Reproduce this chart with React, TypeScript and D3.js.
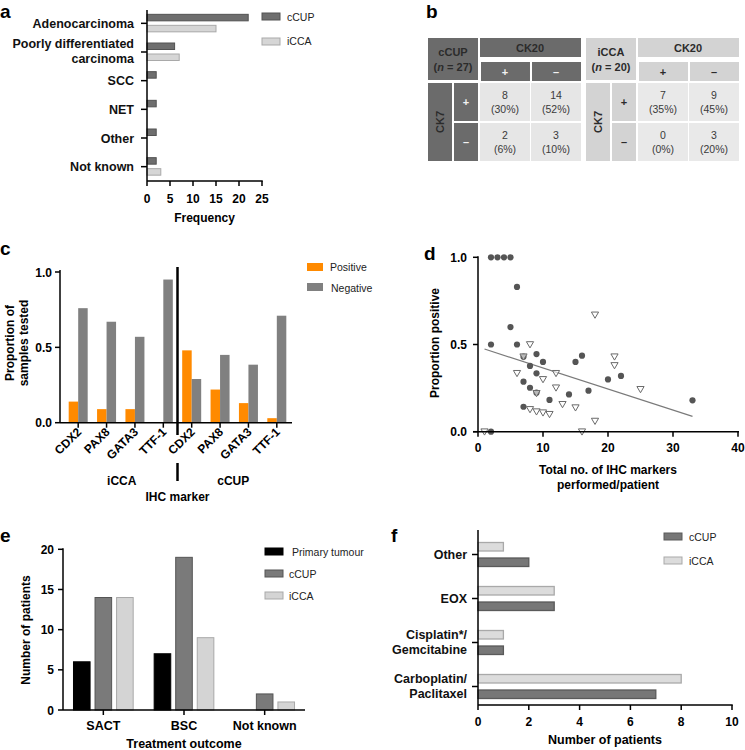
import React from 'react';
import * as d3 from 'd3';

const FONT = "'Liberation Sans', Arial, Helvetica, sans-serif";

// ---------- Panel a data ----------
const histCategories = ["Adenocarcinoma", "Poorly differentiated|carcinoma", "SCC", "NET", "Other", "Not known"];
const histCUP = [22, 6, 2, 2, 2, 2];
const histICCA = [15, 7, 0, 0, 0, 3];
const histTicks = [0, 5, 10, 15, 20, 25];

// ---------- Panel b data ----------
const ck20Cols = ["+", "–"];
const ck7Rows = ["+", "–"];
const cupCounts = [[8, 14], [2, 3]];
const cupPct = [["30%", "52%"], ["6%", "10%"]];
const iccaCounts = [[7, 9], [0, 3]];
const iccaPct = [["35%", "45%"], ["0%", "20%"]];

// ---------- Panel c data ----------
const markers = ["CDX2", "PAX8", "GATA3", "TTF-1"];
const markerGroups = ["iCCA", "cCUP"];
const iccaPositive = [0.14, 0.09, 0.09, 0];
const iccaNegative = [0.76, 0.67, 0.57, 0.95];
const cupPositive = [0.48, 0.22, 0.13, 0.03];
const cupNegative = [0.29, 0.45, 0.385, 0.71];
const propTicks = [0, 0.5, 1.0];

// ---------- Panel d data ----------
const circleX = [2, 3, 4, 5, 6, 5, 2, 6, 7, 9, 8, 10, 9, 7, 8, 9, 11, 14, 15, 16, 17, 20, 22, 33, 7, 2];
const circleY = [1, 1, 1, 1, 0.83, 0.6, 0.5, 0.5, 0.43, 0.445, 0.377, 0.4, 0.335, 0.287, 0.252, 0.224, 0.182, 0.214, 0.4, 0.436, 0.235, 0.3, 0.32, 0.18, 0.143, 0];
const triX = [1, 6, 8, 7, 10, 12, 12, 13, 15, 8, 9, 10, 11, 16, 18, 18, 21, 21, 25, 9];
const triY = [0, 0.335, 0.5, 0.43, 0.3, 0.335, 0.252, 0.157, 0.138, 0.128, 0.115, 0.109, 0.1, 0, 0.67, 0.061, 0.43, 0.38, 0.243, 0.22];
const fitX = [1, 33];
const fitY = [0.474, 0.088];
const markerXTicks = [0, 10, 20, 30, 40];

// ---------- Panel e data ----------
const outcomes = ["SACT", "BSC", "Not known"];
const outcomeSeries = ["Primary tumour", "cCUP", "iCCA"];
const outPrimary = [6, 7, 0];
const outCUP = [14, 19, 2];
const outICCA = [14, 9, 1];
const outTicks = [0, 5, 10, 15, 20];

// ---------- Panel f data ----------
const regimens = ["Other", "EOX", "Cisplatin*/|Gemcitabine", "Carboplatin/|Paclitaxel"];
const regICCA = [1, 3, 1, 8];
const regCUP = [2, 3, 1, 7];
const regTicks = [0, 2, 4, 6, 8, 10];

const DARK = "#6e6e6e";
const DARK_S = "#525252";
const LIGHT = "#d6d6d6";
const LIGHT_S = "#a9a9a9";
const PANEL_SIZE = 19;

function MultiLabel({ x, y, label, anchor = "end", size = 12.5, dy = 15 }: any) {
  const parts = label.split("|");
  const start = parts.length === 1 ? y + 4.5 : y - 4;
  return (
    <text x={x} y={start} textAnchor={anchor} fontSize={size} fontWeight="bold" fill="#111">
      {parts.map((p: string, i: number) => (
        <tspan key={i} x={x} dy={i === 0 ? 0 : dy}>{p}</tspan>
      ))}
    </text>
  );
}

function PanelA() {
  const x = d3.scaleLinear().domain([0, 25]).range([147, 262]);
  const y = d3.scaleBand().domain(histCategories).range([9, 181]);
  const c = (k: string) => (y(k) as number) + y.bandwidth() / 2;
  return (
    <g>
      <text x={0} y={18} fontSize={PANEL_SIZE} fontWeight="bold">a</text>
      {histCategories.map((k, i) => (
        <g key={k}>
          {histCUP[i] > 0 && <rect x={x(0)} y={c(k) - 9} width={x(histCUP[i]) - x(0)} height={6.5} fill={DARK} stroke={DARK_S} strokeWidth={1} />}
          {histICCA[i] > 0 && <rect x={x(0)} y={c(k) + 2} width={x(histICCA[i]) - x(0)} height={6.5} fill={LIGHT} stroke={LIGHT_S} strokeWidth={1} />}
          <line x1={x(0) - 6} x2={x(0)} y1={c(k)} y2={c(k)} stroke="#000" strokeWidth={1.5} />
          <MultiLabel x={134} y={c(k)} label={k} />
        </g>
      ))}
      <line x1={x(0)} x2={x(0)} y1={10} y2={181} stroke="#000" strokeWidth={1.5} />
      <line x1={x(0)} x2={x(25) + 0.75} y1={181} y2={181} stroke="#000" strokeWidth={1.5} />
      {histTicks.map(t => (
        <g key={t}>
          <line x1={x(t)} x2={x(t)} y1={181} y2={186} stroke="#000" strokeWidth={1.5} />
          <text x={x(t)} y={203} textAnchor="middle" fontSize={12} fontWeight="bold">{t}</text>
        </g>
      ))}
      <text x={x(12.5)} y={222} textAnchor="middle" fontSize={12} fontWeight="bold">Frequency</text>
      <rect x={262} y={13} width={18} height={7} fill={DARK} stroke={DARK_S} />
      <text x={287} y={21} fontSize={10.5} fill="#222">cCUP</text>
      <rect x={262} y={38} width={18} height={7} fill={LIGHT} stroke={LIGHT_S} />
      <text x={287} y={45} fontSize={10.5} fill="#222">iCCA</text>
    </g>
  );
}

function CKTable({ x0, title, n, head, cell, subText, counts, pct }: any) {
  const colX = d3.scaleBand().domain(ck20Cols).range([x0 + 52, x0 + 153]).paddingInner(0.02);
  const rowY = d3.scaleBand().domain(ck7Rows).range([83, 161]).paddingInner(0.05);
  const txt = "#2b2b2b";
  return (
    <g>
      <rect x={x0} y={38} width={50} height={42} fill={head} />
      <text x={x0 + 25} y={56} textAnchor="middle" fontSize={11} fontWeight="bold" fill={txt}>{title}</text>
      <text x={x0 + 25} y={71} textAnchor="middle" fontSize={11} fontWeight="bold" fill={txt}>
        (<tspan fontStyle="italic">n</tspan> = {n})
      </text>
      <rect x={x0 + 52} y={38} width={101} height={19} fill={head} />
      <text x={x0 + 102} y={52} textAnchor="middle" fontSize={11} fontWeight="bold" fill={txt}>CK20</text>
      {ck20Cols.map(cName => (
        <g key={cName}>
          <rect x={(colX(cName) as number) + 1} y={62} width={colX.bandwidth() - 1} height={19} fill={head} />
          <text x={(colX(cName) as number) + colX.bandwidth() / 2} y={76} textAnchor="middle" fontSize={11} fontWeight="bold" fill={subText}>{cName}</text>
        </g>
      ))}
      <rect x={x0} y={83} width={24} height={78} fill={head} />
      <text transform={`translate(${x0 + 16},122) rotate(-90)`} textAnchor="middle" fontSize={11} fontWeight="bold" fill={txt}>CK7</text>
      {ck7Rows.map((r, ri) => (
        <g key={r}>
          <rect x={x0 + 26} y={rowY(r) as number} width={24} height={rowY.bandwidth()} fill={head} />
          <text x={x0 + 38} y={(rowY(r) as number) + rowY.bandwidth() / 2 + 4} textAnchor="middle" fontSize={11} fontWeight="bold" fill={subText}>{r}</text>
          {ck20Cols.map((cName, ci) => {
            const cx = (colX(cName) as number) + colX.bandwidth() / 2;
            const cy = (rowY(r) as number) + rowY.bandwidth() / 2;
            return (
              <g key={cName}>
                <rect x={colX(cName) as number} y={rowY(r) as number} width={colX.bandwidth()} height={rowY.bandwidth()} fill={cell} />
                <text x={cx} y={cy - 3} textAnchor="middle" fontSize={10.5} fill="#3a3a3a">{counts[ri][ci]}</text>
                <text x={cx} y={cy + 11} textAnchor="middle" fontSize={10.5} fill="#3a3a3a">({pct[ri][ci]})</text>
              </g>
            );
          })}
        </g>
      ))}
    </g>
  );
}

function PanelB() {
  return (
    <g>
      <text x={426} y={18} fontSize={PANEL_SIZE} fontWeight="bold">b</text>
      <CKTable x0={428} title="cCUP" n={27} head="#6b6b6b" cell="#e6e6e6" subText="#f2f2f2" counts={cupCounts} pct={cupPct} />
      <CKTable x0={586} title="iCCA" n={20} head="#d3d3d3" cell="#e9e9e9" subText="#2b2b2b" counts={iccaCounts} pct={iccaPct} />
    </g>
  );
}

function PanelC() {
  const labels = [...markers, ...markers];
  const pos = [...iccaPositive, ...cupPositive];
  const neg = [...iccaNegative, ...cupNegative];
  const x = d3.scaleBand<number>().domain(d3.range(labels.length)).range([64, 291]);
  const y = d3.scaleLinear().domain([0, 1]).range([422.7, 272]);
  const cx = (i: number) => (x(i) as number) + x.bandwidth() / 2;
  const bw = 9.5;
  const divX = (cx(3) + cx(4)) / 2;
  return (
    <g>
      <text x={0} y={255} fontSize={PANEL_SIZE} fontWeight="bold">c</text>
      {labels.map((l, i) => (
        <g key={i}>
          {pos[i] > 0 && <rect x={cx(i) - bw} y={y(pos[i])} width={bw} height={y(0) - y(pos[i])} fill="#ff8a00" />}
          <rect x={cx(i)} y={y(neg[i])} width={bw} height={y(0) - y(neg[i])} fill="#808080" />
          <line x1={cx(i)} x2={cx(i)} y1={y(0)} y2={y(0) + 5} stroke="#000" strokeWidth={1.5} />
          <text transform={`translate(${cx(i) + 4},${y(0) + 10}) rotate(-45)`} textAnchor="end" fontSize={12} fontWeight="bold">{l}</text>
        </g>
      ))}
      <line x1={60} x2={60} y1={y(1) - 2} y2={y(0)} stroke="#000" strokeWidth={1.5} />
      <line x1={60} x2={292} y1={y(0)} y2={y(0)} stroke="#000" strokeWidth={1.5} />
      {propTicks.map(t => (
        <g key={t}>
          <line x1={55} x2={60} y1={y(t)} y2={y(t)} stroke="#000" strokeWidth={1.5} />
          <text x={52} y={y(t) + 4.5} textAnchor="end" fontSize={12} fontWeight="bold">{t.toFixed(1)}</text>
        </g>
      ))}
      <line x1={divX} x2={divX} y1={267} y2={435} stroke="#000" strokeWidth={2.5} />
      <line x1={divX} x2={divX} y1={463} y2={481} stroke="#000" strokeWidth={2.5} />
      <text x={(cx(0) + cx(3)) / 2 + 1} y={485} textAnchor="middle" fontSize={12} fontWeight="bold">{markerGroups[0]}</text>
      <text x={(cx(4) + cx(7)) / 2 - 1} y={485} textAnchor="middle" fontSize={12} fontWeight="bold">{markerGroups[1]}</text>
      <text x={divX} y={501} textAnchor="middle" fontSize={12} fontWeight="bold">IHC marker</text>
      <text transform="translate(14,343) rotate(-90)" textAnchor="middle" fontSize={12} fontWeight="bold">Proportion of</text>
      <text transform="translate(28,343) rotate(-90)" textAnchor="middle" fontSize={12} fontWeight="bold">samples tested</text>
      <rect x={307} y={263} width={16} height={8} fill="#ff8a00" />
      <text x={330} y={271} fontSize={10.5} fill="#222">Positive</text>
      <rect x={307} y={283} width={16} height={8} fill="#808080" />
      <text x={331} y={292} fontSize={10.5} fill="#222">Negative</text>
    </g>
  );
}

function PanelD() {
  const x = d3.scaleLinear().domain([0, 40]).range([478, 738]);
  const y = d3.scaleLinear().domain([0, 1]).range([431.7, 257.3]);
  const line = d3.line<number>().x((_, i) => x(fitX[i])).y((_, i) => y(fitY[i]));
  const tri = (px: number, py: number) => `M${px - 3.6},${py - 2.8}L${px + 3.6},${py - 2.8}L${px},${py + 3.4}Z`;
  return (
    <g>
      <text x={424} y={260} fontSize={PANEL_SIZE} fontWeight="bold">d</text>
      <path d={line(fitX) as string} fill="none" stroke="#7a7a7a" strokeWidth={1.2} />
      {circleX.map((v, i) => (
        <circle key={i} cx={x(v)} cy={y(circleY[i])} r={3.1} fill="#555" />
      ))}
      {triX.map((v, i) => (
        <path key={i} d={tri(x(v), y(triY[i]))} fill="#fff" fillOpacity={0.6} stroke="#6a6a6a" strokeWidth={1} />
      ))}
      <line x1={x(0)} x2={x(0)} y1={y(1) - 1} y2={y(0)} stroke="#000" strokeWidth={1.5} />
      <line x1={x(0) - 5} x2={x(40) + 1} y1={y(0)} y2={y(0)} stroke="#000" strokeWidth={1.5} />
      {propTicks.map(t => (
        <g key={t}>
          <line x1={x(0) - 5} x2={x(0)} y1={y(t)} y2={y(t)} stroke="#000" strokeWidth={1.5} />
          <text x={467} y={y(t) + 4.5} textAnchor="end" fontSize={12} fontWeight="bold">{t.toFixed(1)}</text>
        </g>
      ))}
      {markerXTicks.map(t => (
        <g key={t}>
          <line x1={x(t)} x2={x(t)} y1={y(0)} y2={y(0) + 5} stroke="#000" strokeWidth={1.5} />
          <text x={x(t)} y={452} textAnchor="middle" fontSize={12} fontWeight="bold">{t}</text>
        </g>
      ))}
      <text x={608} y={474} textAnchor="middle" fontSize={12} fontWeight="bold">Total no. of IHC markers</text>
      <text x={608} y={489} textAnchor="middle" fontSize={12} fontWeight="bold">performed/patient</text>
      <text transform="translate(439,343) rotate(-90)" textAnchor="middle" fontSize={12} fontWeight="bold">Proportion positive</text>
    </g>
  );
}

function PanelE() {
  const x0 = d3.scaleBand().domain(outcomes).range([63, 305]);
  const x1 = d3.scaleBand().domain(outcomeSeries).range([-32, 32]).paddingInner(0.23).paddingOuter(0.1);
  const y = d3.scaleLinear().domain([0, 20]).range([710, 549.3]);
  const vals = [outPrimary, outCUP, outICCA];
  const fills = ["#000", "#7a7a7a", "#d4d4d4"];
  const strokes = ["#000", "#555", "#a9a9a9"];
  return (
    <g>
      <text x={0} y={542} fontSize={PANEL_SIZE} fontWeight="bold">e</text>
      {outcomes.map((o, gi) => {
        const c = (x0(o) as number) + x0.bandwidth() / 2;
        return (
          <g key={o}>
            {outcomeSeries.map((s, si) => vals[si][gi] > 0 && (
              <rect key={s} x={c + (x1(s) as number)} y={y(vals[si][gi])} width={x1.bandwidth()} height={y(0) - y(vals[si][gi])} fill={fills[si]} stroke={strokes[si]} strokeWidth={1} />
            ))}
            <line x1={c} x2={c} y1={y(0)} y2={y(0) + 5} stroke="#000" strokeWidth={1.5} />
            <text x={c} y={730} textAnchor="middle" fontSize={12.5} fontWeight="bold">{o}</text>
          </g>
        );
      })}
      <line x1={63} x2={63} y1={y(20) - 1} y2={y(0)} stroke="#000" strokeWidth={1.5} />
      <line x1={63} x2={305} y1={y(0)} y2={y(0)} stroke="#000" strokeWidth={1.5} />
      {outTicks.map(t => (
        <g key={t}>
          <line x1={58} x2={63} y1={y(t)} y2={y(t)} stroke="#000" strokeWidth={1.5} />
          <text x={54} y={y(t) + 4.5} textAnchor="end" fontSize={12} fontWeight="bold">{t}</text>
        </g>
      ))}
      <text x={184} y={748} textAnchor="middle" fontSize={12.5} fontWeight="bold">Treatment outcome</text>
      <text transform="translate(30,630) rotate(-90)" textAnchor="middle" fontSize={12} fontWeight="bold">Number of patients</text>
      {outcomeSeries.map((s, si) => (
        <g key={s}>
          <rect x={265} y={548 + si * 22} width={18} height={7} fill={fills[si]} stroke={strokes[si]} />
          <text x={si === 0 ? 292 : 289} y={556 + si * 22} fontSize={10.5} fill="#222">{s}</text>
        </g>
      ))}
    </g>
  );
}

function PanelF() {
  const x = d3.scaleLinear().domain([0, 10]).range([478, 732]);
  const y = d3.scaleBand().domain(regimens).range([532.5, 708.5]);
  const c = (k: string) => (y(k) as number) + y.bandwidth() / 2;
  return (
    <g>
      <text x={391} y={542} fontSize={PANEL_SIZE} fontWeight="bold">f</text>
      {regimens.map((k, i) => (
        <g key={k}>
          <rect x={x(0)} y={c(k) - 12} width={x(regICCA[i]) - x(0)} height={8.5} fill="#dcdcdc" stroke="#a9a9a9" strokeWidth={1.3} />
          <rect x={x(0)} y={c(k) + 3.5} width={x(regCUP[i]) - x(0)} height={8.5} fill="#777" stroke="#5a5a5a" strokeWidth={1.3} />
          <line x1={x(0) - 6} x2={x(0)} y1={c(k)} y2={c(k)} stroke="#000" strokeWidth={1.5} />
          <MultiLabel x={467} y={c(k)} label={k} />
        </g>
      ))}
      <line x1={x(0)} x2={x(0)} y1={530} y2={705} stroke="#000" strokeWidth={1.5} />
      <line x1={x(0)} x2={x(10) + 0.75} y1={705} y2={705} stroke="#000" strokeWidth={1.5} />
      {regTicks.map(t => (
        <g key={t}>
          <line x1={x(t)} x2={x(t)} y1={705} y2={710} stroke="#000" strokeWidth={1.5} />
          <text x={x(t)} y={726} textAnchor="middle" fontSize={12} fontWeight="bold">{t}</text>
        </g>
      ))}
      <text x={605} y={744} textAnchor="middle" fontSize={12.5} fontWeight="bold">Number of patients</text>
      <rect x={664} y={533} width={18} height={7} fill="#777" stroke="#5a5a5a" />
      <text x={689} y={541} fontSize={10.5} fill="#222">cCUP</text>
      <rect x={664} y={557} width={18} height={7} fill="#dcdcdc" stroke="#a9a9a9" />
      <text x={689} y={565} fontSize={10.5} fill="#222">iCCA</text>
    </g>
  );
}

export default function App() {
  return (
    <svg width={745} height={750} style={{ position: 'absolute', left: 0, top: 0, background: '#fff' }} fontFamily={FONT}>
      <rect width={745} height={750} fill="#fff" />
      <PanelA />
      <PanelB />
      <PanelC />
      <PanelD />
      <PanelE />
      <PanelF />
    </svg>
  );
}
